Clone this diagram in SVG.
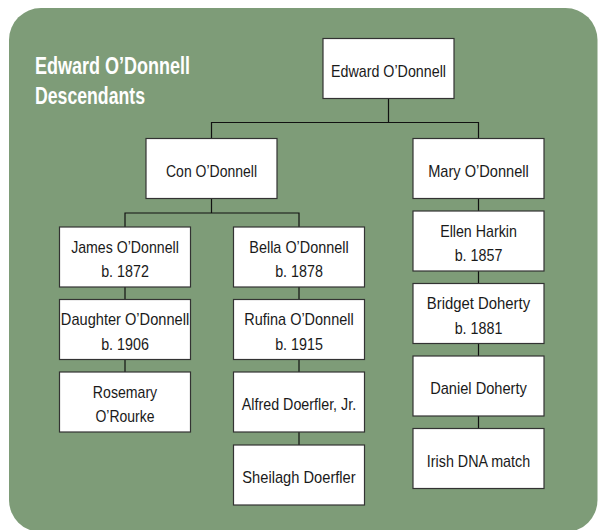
<svg xmlns="http://www.w3.org/2000/svg" width="598" height="530" viewBox="0 0 598 530">
<style>
.bg{fill:#7e9c78}
.box{fill:#ffffff;stroke:#333333;stroke-width:1.2}
.lbl{font-family:"Liberation Sans",Arial,sans-serif;font-size:17px;fill:#1a1a1a;text-anchor:middle}
.title{font-family:"Liberation Sans",Arial,sans-serif;font-size:23.5px;font-weight:bold;fill:#ffffff}
.conn{fill:none;stroke:#111111;stroke-width:1.2}
</style>
<rect class="bg" x="9" y="8" width="588.5" height="524" rx="32" ry="32"/>
<g id="title">
<text class="title" x="35" y="74" textLength="155" lengthAdjust="spacingAndGlyphs">Edward O’Donnell</text>
<text class="title" x="35" y="104" textLength="110" lengthAdjust="spacingAndGlyphs">Descendants</text>
</g>
<g id="connectors">
<path class="conn" d="M388.5,98.5 V122.5 M211.5,138.5 V122.5 H478.5 V138.5"/>
<path class="conn" d="M211.5,198.5 V213 M125,227 V213 H299 V227"/>
<path class="conn" d="M125,287 V299.5 M125,359.5 V372"/>
<path class="conn" d="M299,287 V299.5 M299,359.5 V372 M299,432 V445"/>
<path class="conn" d="M478.5,198.5 V211 M478.5,271 V283.5 M478.5,343.5 V356 M478.5,416 V428.5"/>
</g>
<g id="edward">
<rect class="box" x="323" y="38.5" width="131" height="60"/>
<text class="lbl" x="388.5" y="76.5" textLength="115" lengthAdjust="spacingAndGlyphs">Edward O’Donnell</text>
</g>
<g id="con">
<rect class="box" x="146" y="138.5" width="131" height="60"/>
<text class="lbl" x="211.5" y="176.5" textLength="91" lengthAdjust="spacingAndGlyphs">Con O’Donnell</text>
</g>
<g id="mary">
<rect class="box" x="413" y="138.5" width="131" height="60"/>
<text class="lbl" x="478.5" y="176.5" textLength="100.7" lengthAdjust="spacingAndGlyphs">Mary O’Donnell</text>
</g>
<g id="james">
<rect class="box" x="59.5" y="227" width="131" height="60"/>
<text class="lbl" x="125" y="252.7" textLength="107.7" lengthAdjust="spacingAndGlyphs">James O’Donnell</text>
<text class="lbl" x="125" y="277.3" textLength="47.7" lengthAdjust="spacingAndGlyphs">b. 1872</text>
</g>
<g id="bella">
<rect class="box" x="233.5" y="227" width="131" height="60"/>
<text class="lbl" x="299" y="252.7" textLength="99.3" lengthAdjust="spacingAndGlyphs">Bella O’Donnell</text>
<text class="lbl" x="299" y="277.3" textLength="47.7" lengthAdjust="spacingAndGlyphs">b. 1878</text>
</g>
<g id="daughter">
<rect class="box" x="59.5" y="299.5" width="131" height="60"/>
<text class="lbl" x="125" y="325.2" textLength="128.3" lengthAdjust="spacingAndGlyphs">Daughter O’Donnell</text>
<text class="lbl" x="125" y="349.8" textLength="47.7" lengthAdjust="spacingAndGlyphs">b. 1906</text>
</g>
<g id="rufina">
<rect class="box" x="233.5" y="299.5" width="131" height="60"/>
<text class="lbl" x="299" y="325.2" textLength="109.3" lengthAdjust="spacingAndGlyphs">Rufina O’Donnell</text>
<text class="lbl" x="299" y="349.8" textLength="47.7" lengthAdjust="spacingAndGlyphs">b. 1915</text>
</g>
<g id="rosemary">
<rect class="box" x="59.5" y="372" width="131" height="60"/>
<text class="lbl" x="125" y="397.7" textLength="64.3" lengthAdjust="spacingAndGlyphs">Rosemary</text>
<text class="lbl" x="125" y="422.3" textLength="59" lengthAdjust="spacingAndGlyphs">O’Rourke</text>
</g>
<g id="alfred">
<rect class="box" x="233.5" y="372" width="131" height="60"/>
<text class="lbl" x="299" y="410" textLength="114.3" lengthAdjust="spacingAndGlyphs">Alfred Doerfler, Jr.</text>
</g>
<g id="sheilagh">
<rect class="box" x="233.5" y="445" width="131" height="60"/>
<text class="lbl" x="299" y="483" textLength="113.3" lengthAdjust="spacingAndGlyphs">Sheilagh Doerfler</text>
</g>
<g id="ellen">
<rect class="box" x="413" y="211" width="131" height="60"/>
<text class="lbl" x="478.5" y="236.7" textLength="76.7" lengthAdjust="spacingAndGlyphs">Ellen Harkin</text>
<text class="lbl" x="478.5" y="261.3" textLength="47.7" lengthAdjust="spacingAndGlyphs">b. 1857</text>
</g>
<g id="bridget">
<rect class="box" x="413" y="283.5" width="131" height="60"/>
<text class="lbl" x="478.5" y="309.2" textLength="103.3" lengthAdjust="spacingAndGlyphs">Bridget Doherty</text>
<text class="lbl" x="478.5" y="333.8" textLength="47.7" lengthAdjust="spacingAndGlyphs">b. 1881</text>
</g>
<g id="daniel">
<rect class="box" x="413" y="356" width="131" height="60"/>
<text class="lbl" x="478.5" y="394" textLength="96.7" lengthAdjust="spacingAndGlyphs">Daniel Doherty</text>
</g>
<g id="irish">
<rect class="box" x="413" y="428.5" width="131" height="60"/>
<text class="lbl" x="478.5" y="466.5" textLength="103.3" lengthAdjust="spacingAndGlyphs">Irish DNA match</text>
</g>
</svg>
